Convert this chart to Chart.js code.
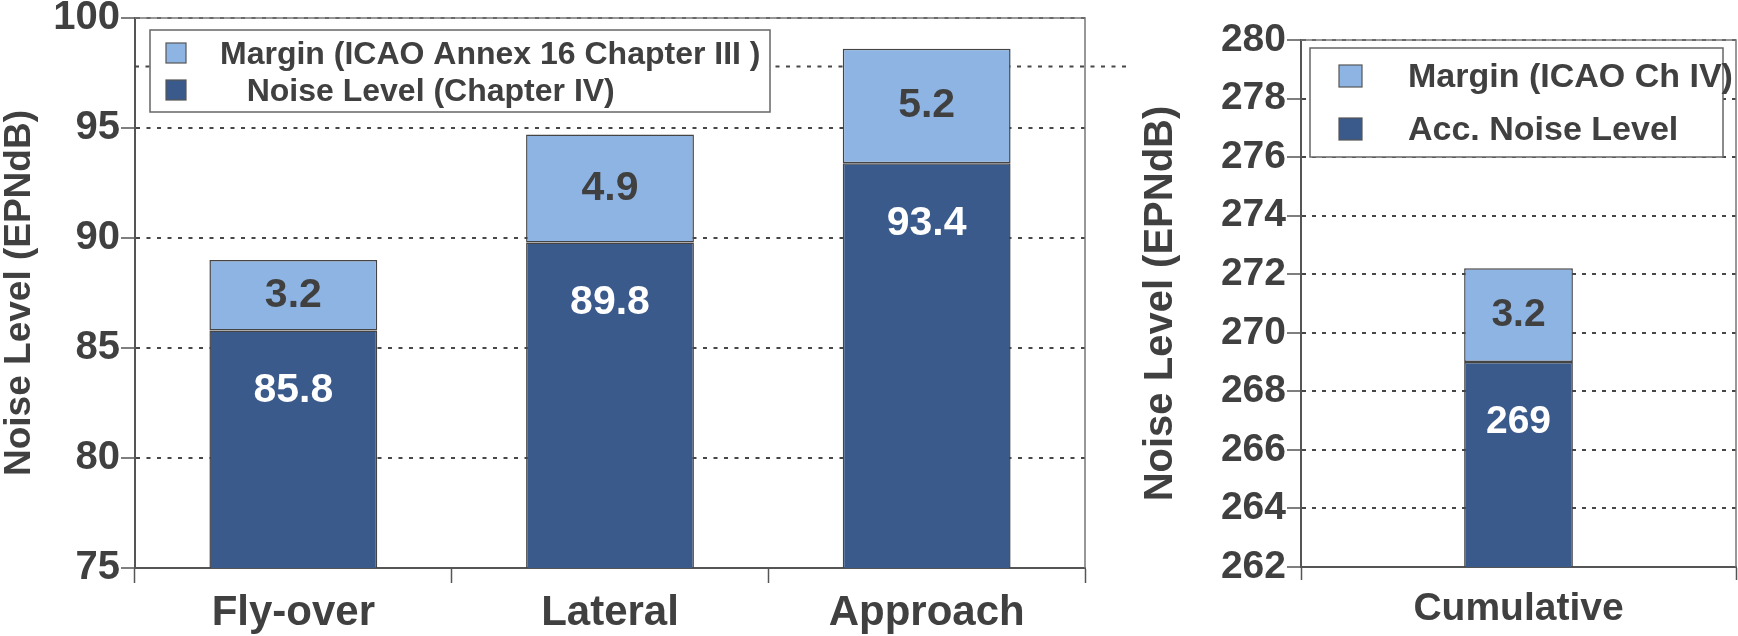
<!DOCTYPE html>
<html>
<head>
<meta charset="utf-8">
<script src="https://cdn.jsdelivr.net/npm/chart.js@4.4.1/dist/chart.umd.min.js"></script>
<style>
  body { margin: 0; background: #fff; }
  #left { position: absolute; left: 0; top: 0; }
  #right { position: absolute; left: 1140px; top: 0; }
</style>
</head>
<body>
<canvas id="left" width="1140" height="636"></canvas>
<canvas id="right" width="598" height="636"></canvas>
<script>
// chart values
const categories = ["Fly-over", "Lateral", "Approach"];
const noiseLevel = [85.8, 89.8, 93.4];
const margin = [3.2, 4.9, 5.2];
const yTicksLeft = [75, 80, 85, 90, 95, 100];

const cumCategories = ["Cumulative"];
const accNoise = [269];
const cumMargin = [3.2];
const yTicksRight = [262, 264, 266, 268, 270, 272, 274, 276, 278, 280];

const FONT = '"Liberation Sans", Arial, sans-serif';
const TEXT = "#404040";
const DARK = "#3A5A8C";
const LIGHT = "#8EB4E3";

// value labels on the bar segments
const barLabels = {
  id: "barLabels",
  afterDatasetsDraw(chart, args, opts) {
    const ctx = chart.ctx;
    ctx.save();
    ctx.font = `bold ${opts.size}px ${FONT}`;
    ctx.textAlign = "center";
    ctx.textBaseline = "middle";
    chart.data.datasets.forEach((ds, di) => {
      chart.getDatasetMeta(di).data.forEach((bar, i) => {
        let y;
        if (di === 0) {
          ctx.fillStyle = "#fff";
          y = bar.y + opts.baseOffset;
        } else {
          ctx.fillStyle = TEXT;
          y = (bar.y + bar.base) / 2;
        }
        ctx.fillText(String(ds.data[i]), bar.x, y);
      });
    });
    ctx.restore();
  },
};

// plot frame, stray grid line and the boxed legend
const decor = {
  id: "decor",
  beforeDatasetsDraw(chart, args, opts) {
    if (opts.extraLine == null) return;
    const { ctx, chartArea } = chart;
    const y = chart.scales.y.getPixelForValue(opts.extraLine);
    ctx.save();
    ctx.strokeStyle = "#474747";
    ctx.lineWidth = 2;
    ctx.setLineDash(opts.dash);
    ctx.beginPath();
    ctx.moveTo(chartArea.left, y);
    ctx.lineTo(chartArea.right + opts.extraLineOver, y);
    ctx.stroke();
    ctx.restore();
  },
  afterDraw(chart, args, opts) {
    const { ctx, chartArea } = chart;
    ctx.save();
    ctx.strokeStyle = "#777";
    ctx.lineWidth = 1.5;
    ctx.beginPath();
    ctx.moveTo(chartArea.left, chartArea.top);
    ctx.lineTo(chartArea.right, chartArea.top);
    ctx.lineTo(chartArea.right, chartArea.bottom);
    ctx.stroke();

    const lg = opts.legend;
    ctx.fillStyle = "#fff";
    ctx.fillRect(lg.x, lg.y, lg.w, lg.h);
    ctx.strokeStyle = "#666";
    ctx.strokeRect(lg.x, lg.y, lg.w, lg.h);
    ctx.font = `bold ${lg.size}px ${FONT}`;
    ctx.textBaseline = "middle";
    ctx.textAlign = "left";
    const order = [1, 0];
    order.forEach((di, row) => {
      const ds = chart.data.datasets[di];
      const cy = lg.rows[row];
      ctx.fillStyle = ds.backgroundColor;
      ctx.fillRect(lg.boxX, cy - lg.sh / 2, lg.sw, lg.sh);
      ctx.strokeStyle = "#555";
      ctx.lineWidth = 1.2;
      ctx.strokeRect(lg.boxX, cy - lg.sh / 2, lg.sw, lg.sh);
      ctx.fillStyle = TEXT;
      ctx.fillText(ds.label, lg.textX, cy + 2);
    });
    ctx.restore();
  },
};

function makeChart(id, cats, base, top, ticks, cfg) {
  return new Chart(document.getElementById(id), {
    type: "bar",
    data: {
      labels: cats,
      datasets: [
        {
          label: cfg.baseLabel,
          data: base,
          backgroundColor: DARK,
          borderColor: "#444",
          borderWidth: 1.5,
          borderSkipped: false,
        },
        {
          label: cfg.topLabel,
          data: top,
          backgroundColor: LIGHT,
          borderColor: "#444",
          borderWidth: 1.5,
          borderSkipped: false,
        },
      ],
    },
    options: {
      responsive: false,
      animation: false,
      devicePixelRatio: 1,
      categoryPercentage: 1,
      barPercentage: cfg.barPct,
      layout: { padding: { left: 0, top: cfg.top, right: cfg.right, bottom: 0 } },
      plugins: {
        legend: { display: false },
        tooltip: { enabled: false },
        barLabels: { size: cfg.labelSize, baseOffset: 60 },
        decor: {
          extraLine: cfg.extraLine,
          extraLineOver: 45,
          dash: cfg.dash,
          legend: cfg.legend,
        },
      },
      scales: {
        x: {
          stacked: true,
          afterFit: (s) => {
            s.height = cfg.xHeight;
            s.paddingLeft = 0;
            s.paddingRight = 0;
          },
          ticks: {
            color: TEXT,
            font: { family: FONT, weight: "bold", size: cfg.xFont, lineHeight: 1 },
            padding: cfg.xPad,
          },
          grid: {
            offset: true,
            drawOnChartArea: false,
            tickLength: cfg.xTick,
            tickColor: "#555",
            tickWidth: 1.5,
          },
          border: { color: "#555", width: 2 },
        },
        y: {
          stacked: true,
          min: ticks[0],
          max: ticks[ticks.length - 1],
          afterBuildTicks: (s) => {
            s.ticks = ticks.map((v) => ({ value: v }));
          },
          afterFit: (s) => {
            s.width = cfg.yWidth;
            s.paddingTop = 0;
            s.paddingBottom = 0;
          },
          ticks: {
            color: TEXT,
            font: { family: FONT, weight: "bold", size: cfg.yFont },
            padding: 1,
          },
          grid: {
            color: "#474747",
            lineWidth: 2,
            tickLength: 14,
            tickColor: "#555",
            tickWidth: 1.5,
            tickBorderDash: [],
          },
          border: { display: true, color: "#555", width: 2, dash: cfg.dash },
          title: {
            display: true,
            text: "Noise Level (EPNdB)",
            color: TEXT,
            font: { family: FONT, weight: "bold", size: cfg.titleFont, lineHeight: 1 },
            padding: { top: cfg.titlePad, bottom: 0 },
          },
        },
      },
    },
    plugins: [barLabels, decor],
  });
}

makeChart("left", categories, noiseLevel, margin, yTicksLeft, {
  baseLabel: "   Noise Level (Chapter IV)",
  topLabel: "Margin (ICAO Annex 16 Chapter III )",
  barPct: 0.53,
  top: 18,
  right: 55,
  xHeight: 68,
  xFont: 42,
  xPad: 9,
  xTick: 15,
  yWidth: 135,
  yFont: 40,
  titleFont: 37,
  titlePad: 1.5,
  labelSize: 41,
  dash: [4, 6.5],
  extraLine: 97.8,
  legend: { x: 150, y: 30, w: 620, h: 82, boxX: 166, sw: 20, sh: 20, rows: [53, 90], textX: 220, size: 32 },
});

makeChart("right", cumCategories, accNoise, cumMargin, yTicksRight, {
  baseLabel: "Acc. Noise Level",
  topLabel: "Margin (ICAO Ch IV)",
  barPct: 0.25,
  top: 40,
  right: 2,
  xHeight: 69,
  xFont: 39,
  xPad: 10,
  xTick: 13,
  yWidth: 161,
  yFont: 39,
  titleFont: 40,
  titlePad: 1,
  labelSize: 39,
  dash: [4, 6],
  extraLine: null,
  legend: { x: 170, y: 48, w: 413, h: 109, boxX: 199, sw: 23, sh: 22, rows: [76, 129], textX: 268, size: 34 },
});
</script>
</body>
</html>
